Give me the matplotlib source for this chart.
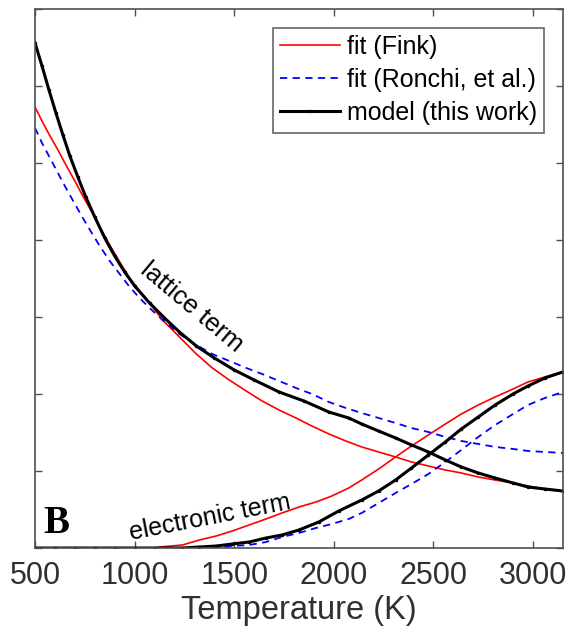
import numpy as np
import matplotlib
matplotlib.use("Agg")
import matplotlib.pyplot as plt

plt.rcParams['font.family'] = ['Liberation Sans', 'DejaVu Sans']

# lattice term (T in K, y in tick units)
T_fink_lat = [500, 535, 575, 615, 655, 700, 740, 785, 825, 875, 925, 975, 1025, 1075, 1140, 1225, 1310, 1390,
              1475, 1560, 1640, 1725, 1810, 1890, 1975, 2060, 2140, 2225, 2310, 2390, 2475, 2560, 2640, 2725,
              2810, 2900, 2975, 3060, 3150]
y_fink_lat = [5.727, 5.545, 5.351, 5.169, 4.974, 4.766, 4.571, 4.364, 4.169, 3.935, 3.714, 3.506, 3.338, 3.182,
              2.961, 2.740, 2.519, 2.338, 2.182, 2.039, 1.909, 1.792, 1.688, 1.584, 1.481, 1.390, 1.312, 1.247,
              1.182, 1.117, 1.065, 1.013, 0.974, 0.922, 0.883, 0.844, 0.805, 0.766, 0.740]

T_ronchi_lat = T_fink_lat
y_ronchi_lat = [5.455, 5.260, 5.065, 4.870, 4.675, 4.468, 4.286, 4.091, 3.922, 3.727, 3.558, 3.390, 3.247, 3.117,
                2.961, 2.779, 2.636, 2.519, 2.429, 2.338, 2.260, 2.169, 2.078, 2.000, 1.896, 1.818, 1.753, 1.688,
                1.623, 1.558, 1.506, 1.442, 1.390, 1.351, 1.312, 1.286, 1.260, 1.247, 1.234]

T_model_lat = [500, 535, 570, 605, 640, 675, 715, 755, 800, 850, 900, 950, 1000, 1075, 1150, 1225, 1310, 1400,
               1500, 1600, 1725, 1850, 1975, 2075, 2140, 2225, 2310, 2390, 2475, 2560, 2640, 2725, 2810, 2900,
               2975, 3060, 3150]
y_model_lat = [6.558, 6.260, 5.948, 5.649, 5.364, 5.091, 4.818, 4.558, 4.299, 4.026, 3.792, 3.584, 3.403, 3.182,
               2.987, 2.805, 2.623, 2.468, 2.312, 2.182, 2.026, 1.909, 1.766, 1.688, 1.610, 1.519, 1.429, 1.338,
               1.247, 1.143, 1.052, 0.974, 0.909, 0.844, 0.792, 0.766, 0.740]

# electronic term
T_fink_el = [500, 1100, 1125, 1240, 1325, 1410, 1490, 1575, 1660, 1740, 1825, 1910, 1990, 2075, 2140, 2225,
             2310, 2390, 2475, 2560, 2640, 2725, 2810, 2900, 2975, 3060, 3150]
y_fink_el = [0.0, 0.0, 0.013, 0.039, 0.104, 0.156, 0.221, 0.299, 0.377, 0.455, 0.532, 0.597, 0.675, 0.779,
             0.883, 1.026, 1.182, 1.325, 1.468, 1.610, 1.740, 1.857, 1.961, 2.065, 2.156, 2.221, 2.286]

T_ronchi_el = [500, 1410, 1490, 1575, 1660, 1740, 1825, 1910, 1990, 2075, 2140, 2225, 2310, 2390, 2475, 2560,
               2640, 2725, 2810, 2900, 2975, 3060, 3150]
y_ronchi_el = [0.0, 0.0, 0.026, 0.039, 0.078, 0.143, 0.195, 0.260, 0.312, 0.377, 0.455, 0.584, 0.714, 0.831,
               0.961, 1.117, 1.273, 1.442, 1.597, 1.740, 1.857, 1.948, 2.026]

T_model_el = [500, 600, 700, 800, 900, 1000, 1100, 1240, 1325, 1410, 1490, 1575, 1660, 1740, 1825, 1925, 2025,
              2140, 2225, 2310, 2390, 2475, 2560, 2640, 2725, 2810, 2900, 2975, 3060, 3150]
y_model_el = [0.0, 0.0, 0.0, 0.0, 0.0, 0.0, 0.0, 0.0, 0.013, 0.026, 0.052, 0.078, 0.130, 0.169, 0.234, 0.338,
              0.481, 0.623, 0.740, 0.883, 1.039, 1.208, 1.377, 1.545, 1.701, 1.857, 2.000, 2.104, 2.208, 2.286]

xticks = [500, 1000, 1500, 2000, 2500, 3000]

fig = plt.figure(figsize=(5.68, 6.35), dpi=100)
ax = fig.add_axes([0.0616, 0.137, 0.9294, 0.849])

ax.plot(T_fink_lat, y_fink_lat, color='red', lw=1.2, label='fit (Fink)')
ax.plot(T_fink_el, y_fink_el, color='red', lw=1.2)
ax.plot(T_ronchi_lat, y_ronchi_lat, color='blue', lw=1.3, ls=(0, (4, 3)), label='fit (Ronchi, et al.)')
ax.plot(T_ronchi_el, y_ronchi_el, color='blue', lw=1.3, ls=(0, (4, 3)))
ax.plot(T_model_lat, y_model_lat, color='black', lw=2.2, marker='.', ms=3, label='model (this work)')
ax.plot(T_model_el, y_model_el, color='black', lw=2.2, marker='.', ms=3)

ax.set_xlim(500, 3150)
ax.set_ylim(0, 7)
ax.set_xticks(xticks)
ax.set_yticks(range(8))
ax.set_yticklabels([])
ax.tick_params(direction='in', length=5, width=1, top=True, right=True,
               labelsize=22, colors='#505050', labelcolor='#303030', pad=9)
for s in ax.spines.values():
    s.set_color('#505050')
    s.set_linewidth(1.2)
ax.set_xlabel('Temperature (K)', fontsize=23.5, color='#303030', labelpad=3)

ax.text(1285, 3.13, 'lattice term', rotation=-40, fontsize=18.5, ha='center', va='center')
ax.text(1380, 0.40, 'electronic term', rotation=11, fontsize=18, ha='center', va='center')
ax.text(540, 0.19, 'B', fontsize=28, fontweight='bold', family='Liberation Serif', va='baseline')

leg = ax.legend(loc='upper right', fontsize=18, frameon=True, fancybox=False,
                edgecolor='#404040', handlelength=2.4, labelspacing=0.36,
                borderaxespad=0.75, handletextpad=0.25, borderpad=0.3, numpoints=1)
leg.get_frame().set_linewidth(1.2)

fig.savefig('out.png', dpi=100)
